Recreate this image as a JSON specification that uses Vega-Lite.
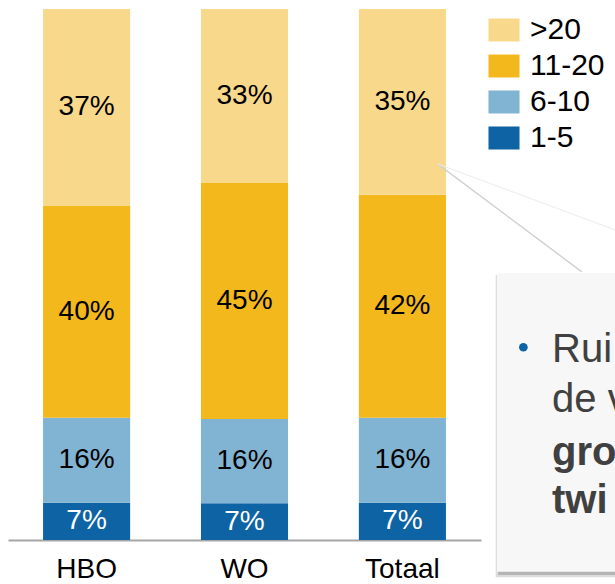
{
  "$schema": "https://vega.github.io/schema/vega-lite/v6.json",
  "width": 615,
  "height": 531,
  "autosize": {"type": "none"},
  "padding": {"left": 0, "top": 9, "right": 0, "bottom": 44},
  "background": "white",
  "config": {"view": {"stroke": null}, "font": "Liberation Sans"},
  "datasets": {
    "shares": [
      {"opleiding": "HBO", "groep": "1-5", "ondergrens": 1, "aandeel": 0.07},
      {"opleiding": "HBO", "groep": "6-10", "ondergrens": 6, "aandeel": 0.16},
      {"opleiding": "HBO", "groep": "11-20", "ondergrens": 11, "aandeel": 0.40},
      {"opleiding": "HBO", "groep": ">20", "ondergrens": 21, "aandeel": 0.37},
      {"opleiding": "WO", "groep": "1-5", "ondergrens": 1, "aandeel": 0.07},
      {"opleiding": "WO", "groep": "6-10", "ondergrens": 6, "aandeel": 0.16},
      {"opleiding": "WO", "groep": "11-20", "ondergrens": 11, "aandeel": 0.45},
      {"opleiding": "WO", "groep": ">20", "ondergrens": 21, "aandeel": 0.33},
      {"opleiding": "Totaal", "groep": "1-5", "ondergrens": 1, "aandeel": 0.07},
      {"opleiding": "Totaal", "groep": "6-10", "ondergrens": 6, "aandeel": 0.16},
      {"opleiding": "Totaal", "groep": "11-20", "ondergrens": 11, "aandeel": 0.42},
      {"opleiding": "Totaal", "groep": ">20", "ondergrens": 21, "aandeel": 0.35}
    ],
    "callout": [
      {"regel": "Rui\nde v", "stijl": "normal"},
      {"regel": "gro\ntwi", "stijl": "bold"}
    ]
  },
  "layer": [
    {
      "data": {"name": "shares"},
      "layer": [
        {
          "mark": {"type": "bar"},
          "encoding": {
            "x": {
              "field": "opleiding", "type": "nominal", "sort": ["HBO", "WO", "Totaal"],
              "scale": {"range": [8, 481], "paddingInner": 0.4485, "paddingOuter": 0.222},
              "axis": {"title": null, "ticks": false, "grid": false, "domainColor": "#a6a6a6", "domainWidth": 2, "labelFontSize": 28, "labelColor": "black", "labelFont": "Liberation Sans", "labelPadding": 15, "labelAngle": 0}
            },
            "y": {"field": "aandeel", "type": "quantitative", "stack": "normalize", "scale": {"domain": [0, 1], "nice": false}, "axis": null},
            "color": {
              "field": "groep", "type": "nominal",
              "scale": {"domain": [">20", "11-20", "6-10", "1-5"], "range": ["#F8D98C", "#F2B81C", "#81B3D2", "#0E63A5"]},
              "legend": {"title": null, "orient": "none", "legendX": 489, "legendY": 6, "symbolType": "M-1.35,-1h2.7v2h-2.7Z", "symbolSize": 529, "symbolStrokeWidth": 0, "symbolOpacity": 1, "labelFontSize": 30, "labelColor": "black", "labelFont": "Liberation Sans", "rowPadding": 6, "labelOffset": 11, "padding": 0}
            },
            "order": {"field": "ondergrens", "type": "quantitative", "sort": "ascending"}
          }
        },
        {
          "transform": [
            {"stack": "aandeel", "groupby": ["opleiding"], "sort": [{"field": "ondergrens", "order": "ascending"}], "offset": "normalize", "as": ["y0", "y1"]},
            {"fold": ["y0", "y1"], "as": ["rand", "ypos"]},
            {"aggregate": [{"op": "mean", "field": "ypos", "as": "midden"}], "groupby": ["opleiding", "groep", "aandeel"]}
          ],
          "mark": {"type": "text", "fontSize": 28, "baseline": "middle", "align": "center", "font": "Liberation Sans"},
          "encoding": {
            "x": {"field": "opleiding", "type": "nominal", "sort": ["HBO", "WO", "Totaal"]},
            "y": {"field": "midden", "type": "quantitative"},
            "text": {"field": "aandeel", "type": "quantitative", "format": ".0%"},
            "color": {"condition": {"test": "datum.groep === '1-5'", "value": "white"}, "value": "black"}
          }
        }
      ]
    },
    {
      "data": {"values": [{"kader": "toelichting"}]},
      "layer": [
        {
          "mark": {"type": "rule", "color": "#d2d2d2", "strokeWidth": 1.5},
          "encoding": {
            "x": {"datum": 0.712, "type": "quantitative", "scale": {"domain": [0, 1]}, "axis": null},
            "x2": {"datum": 0.946},
            "y": {"datum": 0.708, "type": "quantitative", "scale": {"domain": [0, 1]}, "axis": null},
            "y2": {"datum": 0.505}
          }
        },
        {
          "mark": {"type": "rule", "color": "#ececec", "strokeWidth": 1},
          "encoding": {
            "x": {"datum": 0.712, "type": "quantitative"},
            "x2": {"datum": 1.0},
            "y": {"datum": 0.708, "type": "quantitative"},
            "y2": {"datum": 0.584}
          }
        },
        {
          "mark": {"type": "rect", "color": "#dcdcdc"},
          "encoding": {
            "x": {"datum": 0.806, "type": "quantitative"},
            "x2": {"datum": 1.05},
            "y": {"datum": 0.499, "type": "quantitative"},
            "y2": {"datum": -0.070}
          }
        },
        {
          "mark": {"type": "rect", "color": "#b4b4b4"},
          "encoding": {
            "x": {"datum": 0.810, "type": "quantitative"},
            "x2": {"datum": 1.05},
            "y": {"datum": 0.497, "type": "quantitative"},
            "y2": {"datum": -0.066}
          }
        },
        {
          "mark": {"type": "rect", "color": "#f7f7f7"},
          "encoding": {
            "x": {"datum": 0.808, "type": "quantitative"},
            "x2": {"datum": 1.05},
            "y": {"datum": 0.503, "type": "quantitative"},
            "y2": {"datum": -0.060}
          }
        },
        {
          "mark": {"type": "point", "filled": true, "shape": "circle", "size": 75, "color": "#0E63A5", "opacity": 1},
          "encoding": {
            "x": {"datum": 0.851, "type": "quantitative"},
            "y": {"datum": 0.363, "type": "quantitative"}
          }
        }
      ]
    },
    {
      "data": {"name": "callout"},
      "transform": [{"filter": "datum.stijl === 'normal'"}],
      "mark": {"type": "text", "fontSize": 40, "align": "left", "baseline": "alphabetic", "lineBreak": "\n", "lineHeight": 50, "color": "#404040", "font": "Liberation Sans"},
      "encoding": {
        "x": {"datum": 0.8976, "type": "quantitative", "scale": {"domain": [0, 1]}, "axis": null},
        "y": {"datum": 0.335, "type": "quantitative", "scale": {"domain": [0, 1]}, "axis": null},
        "text": {"field": "regel"}
      }
    },
    {
      "data": {"name": "callout"},
      "transform": [{"filter": "datum.stijl === 'bold'"}],
      "mark": {"type": "text", "fontSize": 40, "fontWeight": "bold", "align": "left", "baseline": "alphabetic", "lineBreak": "\n", "lineHeight": 48, "color": "#404040", "font": "Liberation Sans"},
      "encoding": {
        "x": {"datum": 0.8976, "type": "quantitative", "scale": {"domain": [0, 1]}, "axis": null},
        "y": {"datum": 0.141, "type": "quantitative", "scale": {"domain": [0, 1]}, "axis": null},
        "text": {"field": "regel"}
      }
    }
  ],
  "resolve": {"scale": {"x": "independent", "y": "independent"}}
}
